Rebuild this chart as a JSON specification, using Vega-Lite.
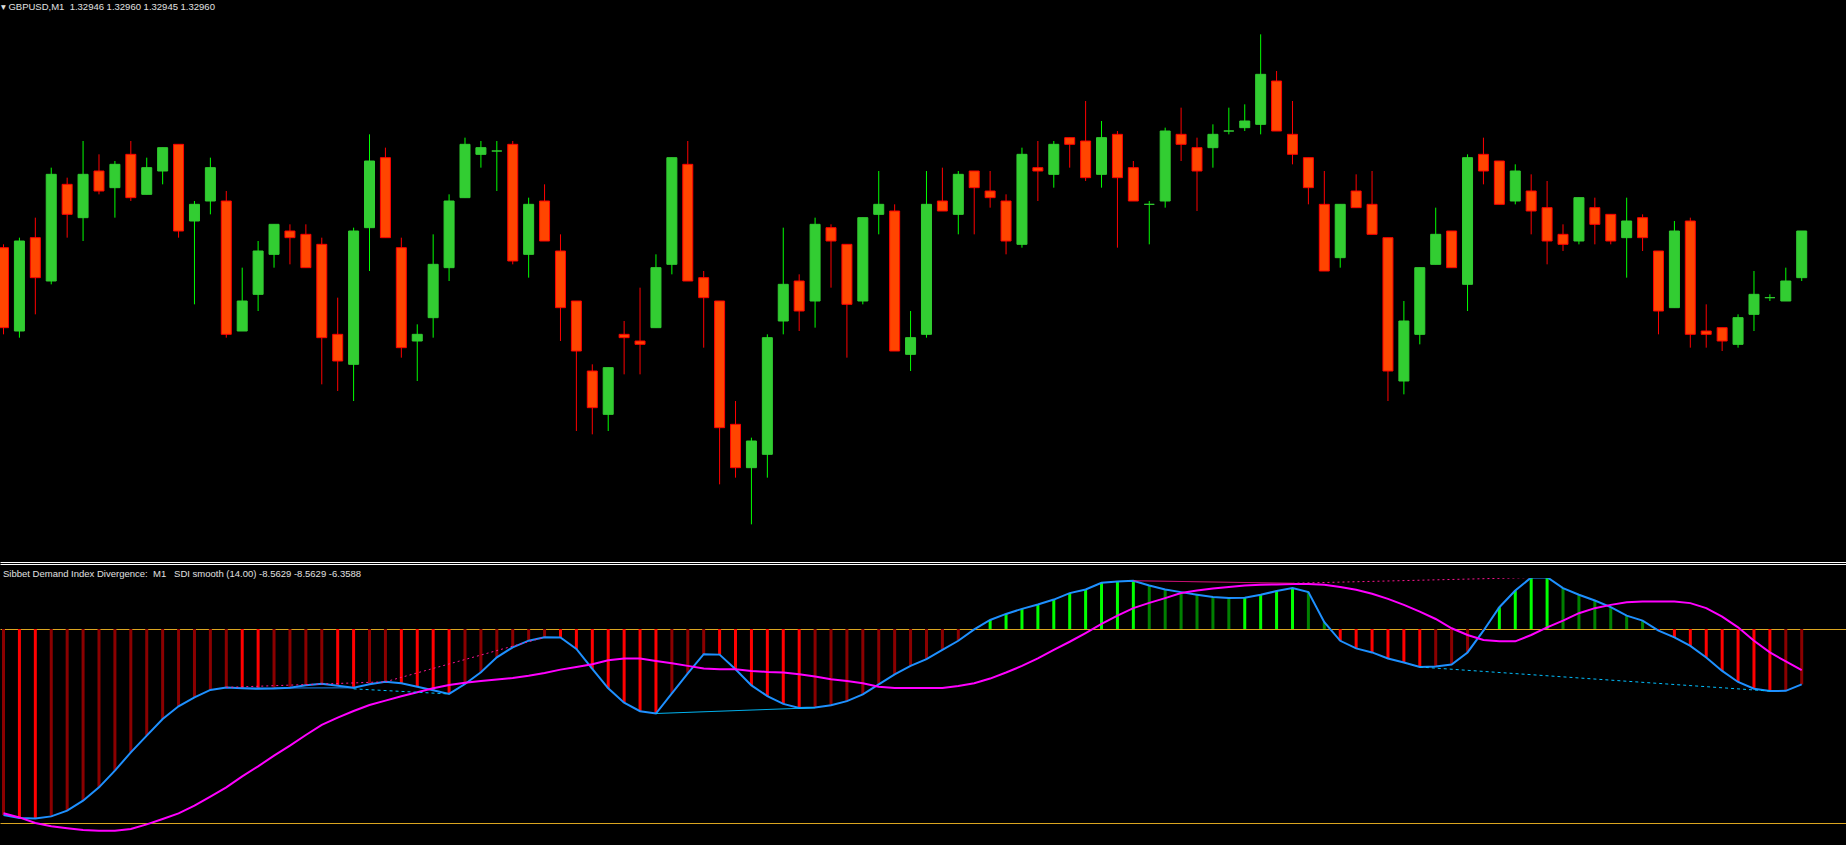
{
  "$schema": "https://vega.github.io/schema/vega-lite/v6.json",
  "background": "#000000",
  "padding": {"top": 2, "left": 0, "right": 0, "bottom": 0},
  "spacing": 0,
  "config": {
    "view": {"stroke": null},
    "axis": {"minExtent": 0, "labels": false, "ticks": false, "domain": false, "grid": false}
  },
  "datasets": {
    "bars": [
{"i":0,"o":1.32955,"h":1.32956,"l":1.32929,"c":1.32931,"s":-28.76,"g":-28.49,"st":"nr"},
{"i":1,"o":1.3293,"h":1.32958,"l":1.32928,"c":1.32957,"s":-29.22,"g":-29.12,"st":"nf"},
{"i":2,"o":1.32958,"h":1.32964,"l":1.32935,"c":1.32946,"s":-29.27,"g":-29.99,"st":"nf"},
{"i":3,"o":1.32945,"h":1.32979,"l":1.32944,"c":1.32977,"s":-28.96,"g":-30.5,"st":"nr"},
{"i":4,"o":1.32974,"h":1.32976,"l":1.32958,"c":1.32965,"s":-28.07,"g":-30.81,"st":"nr"},
{"i":5,"o":1.32964,"h":1.32987,"l":1.32957,"c":1.32977,"s":-26.54,"g":-31.07,"st":"nr"},
{"i":6,"o":1.32978,"h":1.32983,"l":1.32971,"c":1.32972,"s":-24.47,"g":-31.17,"st":"nr"},
{"i":7,"o":1.32973,"h":1.32981,"l":1.32964,"c":1.3298,"s":-21.9,"g":-31.17,"st":"nr"},
{"i":8,"o":1.32983,"h":1.32987,"l":1.32969,"c":1.3297,"s":-19.06,"g":-30.92,"st":"nr"},
{"i":9,"o":1.32971,"h":1.32982,"l":1.32971,"c":1.32979,"s":-16.48,"g":-30.19,"st":"nr"},
{"i":10,"o":1.32978,"h":1.32985,"l":1.32974,"c":1.32985,"s":-13.91,"g":-29.36,"st":"nr"},
{"i":11,"o":1.32986,"h":1.32986,"l":1.32958,"c":1.3296,"s":-11.95,"g":-28.49,"st":"nr"},
{"i":12,"o":1.32963,"h":1.32969,"l":1.32938,"c":1.32968,"s":-10.56,"g":-27.31,"st":"nr"},
{"i":13,"o":1.32969,"h":1.32982,"l":1.32965,"c":1.32979,"s":-9.42,"g":-25.91,"st":"nr"},
{"i":14,"o":1.32969,"h":1.32972,"l":1.32928,"c":1.32929,"s":-9.06,"g":-24.47,"st":"nr"},
{"i":15,"o":1.3293,"h":1.32949,"l":1.3293,"c":1.32939,"s":-9.14,"g":-22.77,"st":"nf"},
{"i":16,"o":1.32941,"h":1.32957,"l":1.32936,"c":1.32954,"s":-9.25,"g":-21.23,"st":"nf"},
{"i":17,"o":1.32953,"h":1.32962,"l":1.32949,"c":1.32962,"s":-9.2,"g":-19.57,"st":"nr"},
{"i":18,"o":1.3296,"h":1.32962,"l":1.3295,"c":1.32958,"s":-9.09,"g":-18.03,"st":"nr"},
{"i":19,"o":1.32959,"h":1.32962,"l":1.32949,"c":1.32949,"s":-8.71,"g":-16.38,"st":"nr"},
{"i":20,"o":1.32956,"h":1.32958,"l":1.32914,"c":1.32928,"s":-8.47,"g":-14.83,"st":"nr"},
{"i":21,"o":1.32929,"h":1.3294,"l":1.32912,"c":1.32921,"s":-8.78,"g":-13.7,"st":"nf"},
{"i":22,"o":1.3292,"h":1.32961,"l":1.32909,"c":1.3296,"s":-9.09,"g":-12.67,"st":"nf"},
{"i":23,"o":1.32961,"h":1.32989,"l":1.32948,"c":1.32981,"s":-8.55,"g":-11.74,"st":"nr"},
{"i":24,"o":1.32982,"h":1.32985,"l":1.32958,"c":1.32958,"s":-8.16,"g":-11.07,"st":"nr"},
{"i":25,"o":1.32955,"h":1.32958,"l":1.32922,"c":1.32925,"s":-8.39,"g":-10.4,"st":"nf"},
{"i":26,"o":1.32927,"h":1.32932,"l":1.32915,"c":1.32929,"s":-8.94,"g":-9.78,"st":"nf"},
{"i":27,"o":1.32934,"h":1.32959,"l":1.32928,"c":1.3295,"s":-9.48,"g":-9.17,"st":"nf"},
{"i":28,"o":1.32949,"h":1.32971,"l":1.32945,"c":1.32969,"s":-10.04,"g":-8.64,"st":"nf"},
{"i":29,"o":1.3297,"h":1.32988,"l":1.3297,"c":1.32986,"s":-8.5,"g":-8.29,"st":"nr"},
{"i":30,"o":1.32983,"h":1.32987,"l":1.32979,"c":1.32985,"s":-6.68,"g":-8.04,"st":"nr"},
{"i":31,"o":1.32984,"h":1.32987,"l":1.32972,"c":1.32984,"s":-4.37,"g":-7.82,"st":"nr"},
{"i":32,"o":1.32986,"h":1.32987,"l":1.3295,"c":1.32951,"s":-2.83,"g":-7.57,"st":"nr"},
{"i":33,"o":1.32953,"h":1.3297,"l":1.32946,"c":1.32968,"s":-1.8,"g":-7.21,"st":"nr"},
{"i":34,"o":1.32969,"h":1.32974,"l":1.32957,"c":1.32957,"s":-1.27,"g":-6.79,"st":"nr"},
{"i":35,"o":1.32954,"h":1.32959,"l":1.32927,"c":1.32937,"s":-1.32,"g":-6.28,"st":"nf"},
{"i":36,"o":1.32939,"h":1.32939,"l":1.329,"c":1.32924,"s":-3.08,"g":-5.86,"st":"nf"},
{"i":37,"o":1.32918,"h":1.3292,"l":1.32899,"c":1.32907,"s":-6.17,"g":-5.46,"st":"nf"},
{"i":38,"o":1.32905,"h":1.32919,"l":1.329,"c":1.32919,"s":-9.17,"g":-4.82,"st":"nf"},
{"i":39,"o":1.32929,"h":1.32933,"l":1.32917,"c":1.32928,"s":-11.39,"g":-4.55,"st":"nf"},
{"i":40,"o":1.32927,"h":1.32943,"l":1.32917,"c":1.32926,"s":-12.7,"g":-4.55,"st":"nf"},
{"i":41,"o":1.32931,"h":1.32953,"l":1.32931,"c":1.32949,"s":-13.06,"g":-4.93,"st":"nf"},
{"i":42,"o":1.3295,"h":1.32982,"l":1.32947,"c":1.32982,"s":-9.95,"g":-5.29,"st":"nr"},
{"i":43,"o":1.3298,"h":1.32987,"l":1.32945,"c":1.32945,"s":-6.84,"g":-5.7,"st":"nr"},
{"i":44,"o":1.32946,"h":1.32948,"l":1.32925,"c":1.3294,"s":-3.89,"g":-6.11,"st":"nr"},
{"i":45,"o":1.32939,"h":1.32939,"l":1.32884,"c":1.32901,"s":-3.96,"g":-6.22,"st":"nf"},
{"i":46,"o":1.32902,"h":1.32909,"l":1.32886,"c":1.32889,"s":-6.22,"g":-6.22,"st":"nf"},
{"i":47,"o":1.32889,"h":1.32898,"l":1.32872,"c":1.32897,"s":-8.71,"g":-6.48,"st":"nf"},
{"i":48,"o":1.32893,"h":1.32929,"l":1.32886,"c":1.32928,"s":-10.37,"g":-6.64,"st":"nf"},
{"i":49,"o":1.32933,"h":1.32961,"l":1.32929,"c":1.32944,"s":-11.58,"g":-6.73,"st":"nf"},
{"i":50,"o":1.32945,"h":1.32947,"l":1.3293,"c":1.32936,"s":-12.2,"g":-7.0,"st":"nf"},
{"i":51,"o":1.32939,"h":1.32964,"l":1.32931,"c":1.32962,"s":-12.12,"g":-7.35,"st":"nr"},
{"i":52,"o":1.32961,"h":1.32962,"l":1.32943,"c":1.32957,"s":-11.77,"g":-7.77,"st":"nr"},
{"i":53,"o":1.32956,"h":1.32956,"l":1.32922,"c":1.32938,"s":-11.15,"g":-8.04,"st":"nr"},
{"i":54,"o":1.32939,"h":1.32964,"l":1.32938,"c":1.32964,"s":-10.1,"g":-8.39,"st":"nr"},
{"i":55,"o":1.32965,"h":1.32978,"l":1.32959,"c":1.32968,"s":-8.55,"g":-8.91,"st":"nr"},
{"i":56,"o":1.32966,"h":1.32968,"l":1.32924,"c":1.32924,"s":-7.0,"g":-9.12,"st":"nr"},
{"i":57,"o":1.32923,"h":1.32936,"l":1.32918,"c":1.32928,"s":-5.7,"g":-9.12,"st":"nr"},
{"i":58,"o":1.32929,"h":1.32978,"l":1.32928,"c":1.32968,"s":-4.66,"g":-9.12,"st":"nr"},
{"i":59,"o":1.32969,"h":1.32979,"l":1.32966,"c":1.32966,"s":-3.22,"g":-9.12,"st":"nr"},
{"i":60,"o":1.32965,"h":1.32978,"l":1.32959,"c":1.32977,"s":-1.82,"g":-8.81,"st":"nr"},
{"i":61,"o":1.32978,"h":1.32978,"l":1.32959,"c":1.32973,"s":-0.05,"g":-8.39,"st":"nr"},
{"i":62,"o":1.32972,"h":1.32978,"l":1.32967,"c":1.3297,"s":1.4,"g":-7.66,"st":"pr"},
{"i":63,"o":1.32969,"h":1.32971,"l":1.32953,"c":1.32957,"s":2.33,"g":-6.73,"st":"pr"},
{"i":64,"o":1.32956,"h":1.32985,"l":1.32955,"c":1.32983,"s":3.11,"g":-5.7,"st":"pr"},
{"i":65,"o":1.32979,"h":1.32987,"l":1.32969,"c":1.32978,"s":3.78,"g":-4.55,"st":"pr"},
{"i":66,"o":1.32977,"h":1.32987,"l":1.32973,"c":1.32986,"s":4.55,"g":-3.22,"st":"pr"},
{"i":67,"o":1.32988,"h":1.32988,"l":1.32979,"c":1.32986,"s":5.55,"g":-1.97,"st":"pr"},
{"i":68,"o":1.32987,"h":1.32999,"l":1.32975,"c":1.32976,"s":6.11,"g":-0.62,"st":"pr"},
{"i":69,"o":1.32977,"h":1.32993,"l":1.32973,"c":1.32988,"s":7.15,"g":0.78,"st":"pr"},
{"i":70,"o":1.32989,"h":1.3299,"l":1.32955,"c":1.32976,"s":7.35,"g":2.07,"st":"pr"},
{"i":71,"o":1.32979,"h":1.32981,"l":1.32969,"c":1.32969,"s":7.46,"g":3.22,"st":"pr"},
{"i":72,"o":1.32968,"h":1.32969,"l":1.32956,"c":1.32968,"s":6.73,"g":4.04,"st":"pf"},
{"i":73,"o":1.32969,"h":1.32991,"l":1.32967,"c":1.3299,"s":6.11,"g":4.77,"st":"pf"},
{"i":74,"o":1.32989,"h":1.32997,"l":1.32981,"c":1.32986,"s":5.7,"g":5.55,"st":"pf"},
{"i":75,"o":1.32985,"h":1.32988,"l":1.32966,"c":1.32978,"s":5.29,"g":5.95,"st":"pf"},
{"i":76,"o":1.32985,"h":1.32992,"l":1.32979,"c":1.32989,"s":4.93,"g":6.26,"st":"pf"},
{"i":77,"o":1.3299,"h":1.32997,"l":1.32989,"c":1.3299,"s":4.79,"g":6.48,"st":"pf"},
{"i":78,"o":1.32991,"h":1.32998,"l":1.3299,"c":1.32993,"s":4.82,"g":6.73,"st":"pr"},
{"i":79,"o":1.32992,"h":1.33019,"l":1.32989,"c":1.33007,"s":5.29,"g":6.84,"st":"pr"},
{"i":80,"o":1.33005,"h":1.33008,"l":1.3299,"c":1.3299,"s":5.86,"g":6.89,"st":"pr"},
{"i":81,"o":1.32989,"h":1.32999,"l":1.3298,"c":1.32983,"s":6.33,"g":6.95,"st":"pr"},
{"i":82,"o":1.32982,"h":1.32982,"l":1.32968,"c":1.32973,"s":5.7,"g":6.95,"st":"pf"},
{"i":83,"o":1.32968,"h":1.32978,"l":1.32948,"c":1.32948,"s":1.04,"g":6.84,"st":"pf"},
{"i":84,"o":1.32952,"h":1.32968,"l":1.32949,"c":1.32968,"s":-1.82,"g":6.48,"st":"nf"},
{"i":85,"o":1.32972,"h":1.32977,"l":1.32967,"c":1.32967,"s":-3.0,"g":6.06,"st":"nf"},
{"i":86,"o":1.32968,"h":1.32978,"l":1.32959,"c":1.32959,"s":-3.62,"g":5.44,"st":"nf"},
{"i":87,"o":1.32958,"h":1.32958,"l":1.32909,"c":1.32918,"s":-4.55,"g":4.66,"st":"nf"},
{"i":88,"o":1.32915,"h":1.32939,"l":1.32911,"c":1.32933,"s":-5.18,"g":3.73,"st":"nf"},
{"i":89,"o":1.32929,"h":1.32949,"l":1.32926,"c":1.32949,"s":-5.88,"g":2.69,"st":"nf"},
{"i":90,"o":1.3295,"h":1.32967,"l":1.3295,"c":1.32959,"s":-5.8,"g":1.55,"st":"nr"},
{"i":91,"o":1.3296,"h":1.3296,"l":1.32949,"c":1.32949,"s":-5.49,"g":0.11,"st":"nr"},
{"i":92,"o":1.32944,"h":1.32983,"l":1.32936,"c":1.32982,"s":-3.62,"g":-0.93,"st":"nr"},
{"i":93,"o":1.32983,"h":1.32988,"l":1.32974,"c":1.32978,"s":-0.26,"g":-1.71,"st":"nr"},
{"i":94,"o":1.32981,"h":1.32981,"l":1.32968,"c":1.32968,"s":3.37,"g":-1.91,"st":"pr"},
{"i":95,"o":1.32969,"h":1.3298,"l":1.32968,"c":1.32978,"s":5.95,"g":-1.91,"st":"pr"},
{"i":96,"o":1.32972,"h":1.32977,"l":1.32959,"c":1.32966,"s":7.97,"g":-0.93,"st":"pr"},
{"i":97,"o":1.32967,"h":1.32975,"l":1.3295,"c":1.32957,"s":8.01,"g":0.26,"st":"pr"},
{"i":98,"o":1.32959,"h":1.32962,"l":1.32954,"c":1.32956,"s":6.33,"g":1.29,"st":"pf"},
{"i":99,"o":1.32957,"h":1.3297,"l":1.32956,"c":1.3297,"s":5.29,"g":2.44,"st":"pf"},
{"i":100,"o":1.32967,"h":1.3297,"l":1.32956,"c":1.32962,"s":4.4,"g":3.22,"st":"pf"},
{"i":101,"o":1.32965,"h":1.32965,"l":1.32956,"c":1.32957,"s":3.37,"g":3.73,"st":"pf"},
{"i":102,"o":1.32958,"h":1.3297,"l":1.32946,"c":1.32963,"s":2.07,"g":4.15,"st":"pf"},
{"i":103,"o":1.32964,"h":1.32965,"l":1.32954,"c":1.32958,"s":1.29,"g":4.24,"st":"pf"},
{"i":104,"o":1.32954,"h":1.32954,"l":1.32929,"c":1.32936,"s":-0.26,"g":4.24,"st":"nf"},
{"i":105,"o":1.32937,"h":1.32963,"l":1.32937,"c":1.3296,"s":-1.29,"g":4.24,"st":"nf"},
{"i":106,"o":1.32963,"h":1.32964,"l":1.32925,"c":1.32929,"s":-2.6,"g":4.0,"st":"nf"},
{"i":107,"o":1.3293,"h":1.32938,"l":1.32925,"c":1.32929,"s":-4.4,"g":3.22,"st":"nf"},
{"i":108,"o":1.32931,"h":1.32931,"l":1.32924,"c":1.32927,"s":-6.48,"g":1.91,"st":"nf"},
{"i":109,"o":1.32926,"h":1.32935,"l":1.32925,"c":1.32934,"s":-8.19,"g":0.26,"st":"nf"},
{"i":110,"o":1.32935,"h":1.32948,"l":1.3293,"c":1.32941,"s":-9.22,"g":-1.82,"st":"nf"},
{"i":111,"o":1.3294,"h":1.32941,"l":1.32939,"c":1.3294,"s":-9.59,"g":-3.62,"st":"nf"},
{"i":112,"o":1.32939,"h":1.32949,"l":1.32939,"c":1.32945,"s":-9.56,"g":-5.02,"st":"nr"},
{"i":113,"o":1.32946,"h":1.3296,"l":1.32945,"c":1.3296,"s":-8.5629,"g":-6.3588,"st":"nr"}
    ],
    "div": [
{"seg":"A1","k":"pd","i":14,"v":-9.02},{"seg":"A1","k":"pd","i":24,"v":-8.16},
{"seg":"A2","k":"pd","i":24,"v":-8.16},{"seg":"A2","k":"pd","i":34,"v":-1.27},
{"seg":"D2","k":"pd","i":81,"v":7.07},{"seg":"D2","k":"pd","i":97,"v":8.01},
{"seg":"D1","k":"ps","i":71,"v":7.46},{"seg":"D1","k":"ps","i":81,"v":7.07},
{"seg":"B1","k":"bs","i":15,"v":-9.14},{"seg":"B1","k":"bs","i":22,"v":-9.09},
{"seg":"B2","k":"cd","i":22,"v":-9.25},{"seg":"B2","k":"cd","i":28,"v":-10.04},
{"seg":"E","k":"cd","i":89,"v":-5.88},{"seg":"E","k":"cd","i":111,"v":-9.59},
{"seg":"C","k":"cs","i":41,"v":-13.06},{"seg":"C","k":"cs","i":51,"v":-12.17}
    ]
  },
  "vconcat": [
    {
      "width": 1846,
      "height": 548,
      "title": {
        "text": "▾ GBPUSD,M1\u00a0\u00a01.32946 1.32960 1.32945 1.32960",
        "anchor": "start",
        "frame": "group",
        "offset": 2.5,
        "dx": 1,
        "font": "Liberation Sans, DejaVu Sans",
        "fontSize": 9.5,
        "fontWeight": "normal",
        "color": "#E0E0E0"
      },
      "data": {"name": "bars"},
      "encoding": {
        "x": {
          "field": "i",
          "type": "quantitative",
          "scale": {"domain": [0.09375, 115.46875], "nice": false, "zero": false},
          "axis": {
            "orient": "bottom",
            "offset": 2,
            "domain": true,
            "domainColor": "#FFFFFF",
            "domainWidth": 1,
            "domainOpacity": 1,
            "title": "Sibbet Demand Index Divergence:\u00a0\u00a0M1\u00a0\u00a0\u00a0SDI smooth (14.00) -8.5629 -8.5629 -6.3588",
            "titleColor": "#E0E0E0",
            "titleFont": "Liberation Sans, DejaVu Sans",
            "titleFontSize": 9.5,
            "titleFontWeight": "normal",
            "titleAnchor": "start",
            "titleAlign": "left",
            "titleBaseline": "top",
            "titleX": 2.5,
            "titlePadding": 4.5
          }
        }
      },
      "layer": [
        {
          "mark": {"type": "rule", "strokeWidth": 1, "clip": true},
          "encoding": {
            "y": {
              "field": "l",
              "type": "quantitative",
              "scale": {"domain": [1.328607, 1.330251], "nice": false, "zero": false},
              "axis": {"values": [1.328607], "grid": true, "gridColor": "#FFFFFF", "gridWidth": 1, "gridOpacity": 1, "title": null}
            },
            "y2": {"field": "h"},
            "color": {"condition": {"test": "datum.c >= datum.o", "value": "#00FF00"}, "value": "#FF0000"}
          }
        },
        {
          "mark": {"type": "bar", "size": 10, "strokeWidth": 1, "clip": true},
          "encoding": {
            "y": {
              "field": "o",
              "type": "quantitative",
              "scale": {"domain": [1.328607, 1.330251], "nice": false, "zero": false},
              "axis": {"values": [1.328607], "grid": true, "gridColor": "#FFFFFF", "gridWidth": 1, "gridOpacity": 1, "title": null}
            },
            "y2": {"field": "c"},
            "fill": {"condition": {"test": "datum.c >= datum.o", "value": "#32CD32"}, "value": "#FF4500"},
            "stroke": {"condition": {"test": "datum.c >= datum.o", "value": "#32CD32"}, "value": "#FF0000"}
          }
        }
      ]
    },
    {
      "width": 1846,
      "height": 267,
      "data": {"name": "bars"},
      "resolve": {"scale": {"color": "independent", "strokeDash": "independent"}},
      "encoding": {
        "x": {
          "field": "i",
          "type": "quantitative",
          "scale": {"domain": [0.09375, 115.46875], "nice": false, "zero": false},
          "axis": null
        }
      },
      "layer": [
        {
          "mark": {"type": "bar", "size": 3, "clip": true},
          "encoding": {
            "y": {
              "field": "s",
              "type": "quantitative",
              "scale": {"domain": [-33.384, 7.883], "nice": false, "zero": false},
              "axis": {"values": [0, -30], "grid": true, "gridColor": "#DAA520", "gridWidth": 1, "gridOpacity": 1, "title": null}
            },
            "y2": {"datum": 0},
            "color": {
              "field": "st",
              "type": "nominal",
              "scale": {"domain": ["nf", "nr", "pr", "pf"], "range": ["#FF0000", "#8B0000", "#00FF00", "#008000"]},
              "legend": null
            }
          }
        },
        {
          "mark": {"type": "line", "strokeWidth": 2, "color": "#1E90FF", "clip": true},
          "encoding": {
            "y": {
              "field": "s", "type": "quantitative",
              "scale": {"domain": [-33.384, 7.883], "nice": false, "zero": false},
              "axis": {"values": [0, -30], "grid": true, "gridColor": "#DAA520", "gridWidth": 1, "gridOpacity": 1, "title": null}
            }
          }
        },
        {
          "mark": {"type": "line", "strokeWidth": 2, "color": "#FF00FF", "clip": true},
          "encoding": {
            "y": {
              "field": "g", "type": "quantitative",
              "scale": {"domain": [-33.384, 7.883], "nice": false, "zero": false},
              "axis": {"values": [0, -30], "grid": true, "gridColor": "#DAA520", "gridWidth": 1, "gridOpacity": 1, "title": null}
            }
          }
        },
        {
          "data": {"name": "div"},
          "mark": {"type": "line", "strokeWidth": 1, "clip": true},
          "encoding": {
            "y": {
              "field": "v", "type": "quantitative",
              "scale": {"domain": [-33.384, 7.883], "nice": false, "zero": false},
              "axis": {"values": [0, -30], "grid": true, "gridColor": "#DAA520", "gridWidth": 1, "gridOpacity": 1, "title": null}
            },
            "detail": {"field": "seg", "type": "nominal"},
            "color": {
              "field": "k",
              "type": "nominal",
              "scale": {"domain": ["pd", "ps", "bs", "cd", "cs"], "range": ["#FF1493", "#FF1493", "#1E90FF", "#00BFFF", "#00BFFF"]},
              "legend": null
            },
            "strokeDash": {
              "field": "k",
              "type": "nominal",
              "scale": {"domain": ["pd", "ps", "bs", "cd", "cs"], "range": [[2, 3], [1, 0], [1, 0], [3, 3], [1, 0]]},
              "legend": null
            }
          }
        }
      ]
    }
  ]
}
